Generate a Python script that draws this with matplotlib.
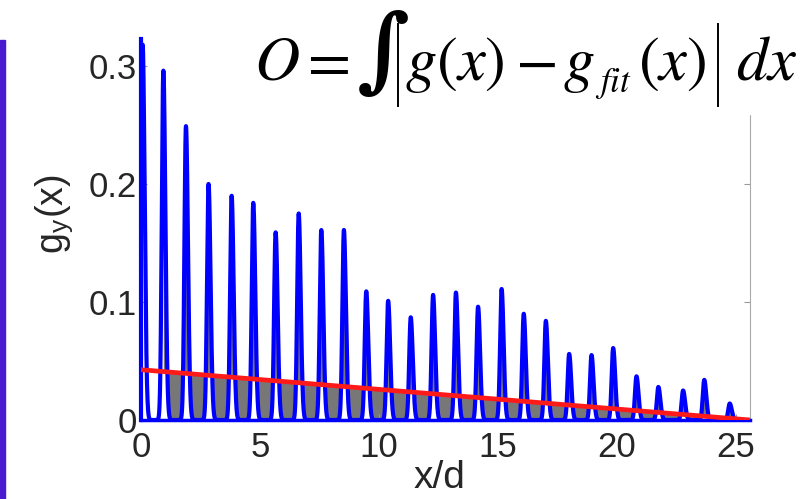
import numpy as np
import matplotlib.pyplot as plt
from matplotlib.patches import Rectangle
from matplotlib.lines import Line2D

# peak positions (x/d) and heights of g_y(x)
peak_x = [0.07, 0.94, 1.89, 2.84, 3.81, 4.72, 5.66, 6.63, 7.58, 8.53,
          9.47, 10.39, 11.34, 12.28, 13.24, 14.17, 15.16, 16.09, 17.02,
          18.00, 18.94, 19.85, 20.83, 21.75, 22.79, 23.68, 24.75]
peak_h = [0.318, 0.296, 0.249, 0.200, 0.190, 0.184, 0.159, 0.175, 0.161,
          0.161, 0.109, 0.101, 0.087, 0.106, 0.108, 0.096, 0.111, 0.090,
          0.084, 0.056, 0.055, 0.061, 0.037, 0.028, 0.025, 0.034, 0.014]

# linear fit g_fit(x)
fit_x = [0.0, 25.6]
fit_y = [0.0426, 0.0]

x_ticks = [0, 5, 10, 15, 20, 25]
y_ticks = [0, 0.1, 0.2, 0.3]
y_ticklabels = ['0', '0.1', '0.2', '0.3']

plt.rcParams['font.family'] = ['Liberation Sans', 'DejaVu Sans']
plt.rcParams['mathtext.fontset'] = 'stix'

# build the peaked profile from the read peaks
x = np.linspace(0, 25.6, 8000)
g = np.zeros_like(x)
for c, h in zip(peak_x, peak_h):
    w = np.where(x < c, 0.09, 0.12)
    g += h * np.exp(-((x - c) / w) ** 2)
fit = np.interp(x, fit_x, fit_y)

fig = plt.figure(figsize=(8.07, 4.99), dpi=100)
ax = fig.add_axes([0.1747, 0.1583, 0.7546, 0.7640])

ax.fill_between(x, g, fit, where=x >= peak_x[1], color='#777777', lw=0, zorder=1)
ax.plot(x, g, color='#0000ff', lw=3.0, zorder=2)
ax.plot(fit_x, fit_y, color='#ff1a1a', lw=3.4, zorder=3, solid_capstyle='butt')

ax.set_xlim(0, 25.6)
ax.set_ylim(0, 0.323)
ax.set_xticks(x_ticks)
ax.set_yticks(y_ticks)
ax.set_yticklabels(y_ticklabels)
ax.tick_params(direction='in', length=4, color='#999999', labelsize=25,
               labelcolor='#262626', right=True)
ax.tick_params(axis='x', pad=8)
ax.tick_params(axis='y', pad=3)
ax.spines['top'].set_visible(False)
ax.spines['right'].set_color('#aaaaaa')
ax.spines['bottom'].set_color('#0000ff')
ax.spines['bottom'].set_linewidth(2.5)
ax.spines['left'].set_color('#0000ff')
ax.spines['left'].set_linewidth(3.0)

ax.set_xlabel('x/d', fontsize=28, color='#262626')
ax.xaxis.set_label_coords(0.49, -0.105)
ax.set_ylabel(r'g$_\mathregular{y}$(x)', fontsize=27, color='#262626')
ax.yaxis.set_label_coords(-0.108, 0.54)

# white box behind the equation, and the purple edge on the left
fig.patches.append(Rectangle((245 / 807, 1 - 114 / 499), 1, 1, color='white',
                             transform=fig.transFigure, zorder=5))
fig.patches.append(Rectangle((0, 0), 5 / 807, 1 - 40 / 499, color='#4a1ad0',
                             transform=fig.transFigure, zorder=5))

# equation, set piece by piece
W, H = 807, 499
base = 1 - 80 / H
eq_size = 45
fig.text(254 / W, base, r'$O$', fontsize=eq_size, ha='left', va='baseline', zorder=6)
fig.text(298 / W, base, r'$=$', fontsize=eq_size, ha='left', va='baseline', zorder=6)
fig.text(357 / W, base, '\u222b', fontsize=66, family='DejaVu Serif', weight='bold',
         ha='left', va='baseline', zorder=6)
fig.text(405 / W, base, r'$g(x)$', fontsize=eq_size, ha='left', va='baseline', zorder=6)
fig.text(515 / W, base, r'$-$', fontsize=eq_size, ha='left', va='baseline', zorder=6)
fig.text(563 / W, base, r'$g$', fontsize=eq_size, ha='left', va='baseline', zorder=6)
fig.text(595 / W, base - 12 / H, r'$fit$', fontsize=25, ha='left', va='baseline', zorder=6)
fig.text(638 / W, base, r'$(x)$', fontsize=eq_size, ha='left', va='baseline', zorder=6)
fig.text(736 / W, base, r'$dx$', fontsize=eq_size, ha='left', va='baseline', zorder=6)
for bx in [398, 718]:
    fig.add_artist(Line2D([bx / W, bx / W], [1 - 24 / H, 1 - 106 / H], color='black',
                          lw=1.4, transform=fig.transFigure, zorder=6))

fig.savefig('out.png', dpi=100)
